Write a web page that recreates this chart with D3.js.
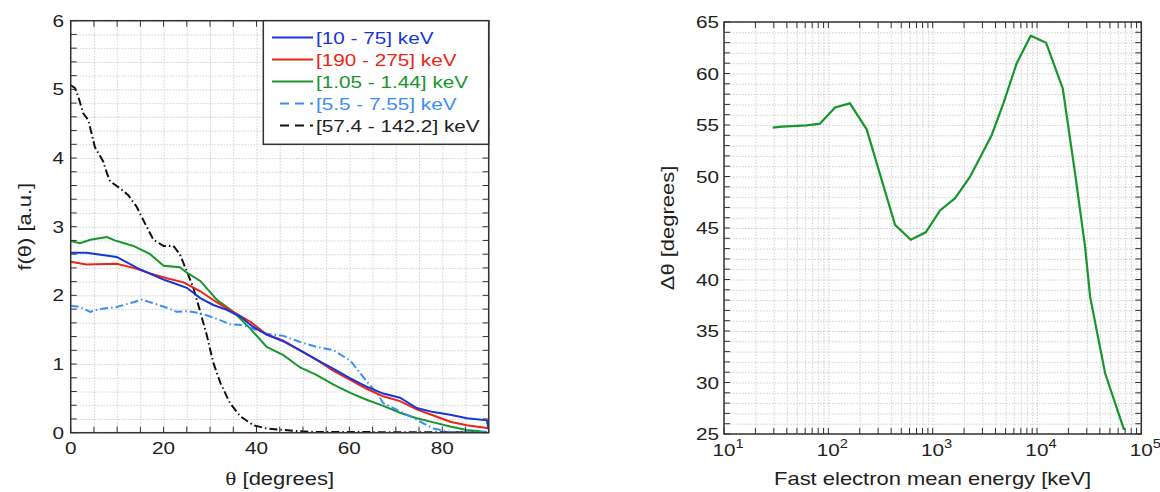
<!DOCTYPE html>
<html><head><meta charset="utf-8">
<script src="https://cdn.jsdelivr.net/npm/d3@7/dist/d3.min.js"></script>
<style>
body{margin:0;background:#fff;}
text{font-family:"Liberation Sans",Arial,sans-serif;fill:#222;}
.grid line{stroke:#c4c4c4;stroke-dasharray:1.5,1.5;stroke-width:0.8;}
.grid path{display:none;}
</style></head><body>
<svg id="c" width="1160" height="492"></svg>
<script>
// ---------- DATA ----------
const seriesNames = ["[10 - 75] keV","[190 - 275] keV","[1.05 - 1.44] keV","[5.5 - 7.55] keV","[57.4 - 142.2] keV"];
const seriesColors = ["#1836d8","#ee2412","#17962b","#3b8ef5","#111111"];
const seriesDashed = [false,false,false,true,true];

const blueTheta = [0,3.4,9.9,14.9,20,22.1,25,27.9,30.7,33.6,36.5,39.3,42.2,45.8,49.4,53,56.6,60.2,63.7,67.3,70.9,74.5,78.1,81.7,85.3,89.6,90];
const blueVal   = [2.62,2.62,2.56,2.38,2.23,2.18,2.11,1.96,1.86,1.79,1.69,1.54,1.43,1.33,1.20,1.06,0.93,0.79,0.67,0.57,0.51,0.36,0.30,0.26,0.21,0.18,0.05];

const redTheta = [0,3.4,9.9,13.5,17.1,20.7,24.3,27.9,31.4,35,38.6,42.2,45.8,49.4,53,56.6,60.2,63.7,67.3,70.9,74.5,78.1,81.7,85.3,89.6,90];
const redVal   = [2.49,2.45,2.46,2.40,2.32,2.25,2.19,2.06,1.90,1.76,1.62,1.43,1.34,1.20,1.06,0.90,0.77,0.64,0.53,0.46,0.34,0.25,0.16,0.11,0.07,0.06];

const greenTheta = [0,2,4.2,7.8,9.5,13.5,17.1,20,23.5,25,27.9,31.4,35,38.6,42.2,45.8,49.4,53,56.6,60.2,63.7,67.3,70.9,74.5,78.1,81.7,85.3,89.6];
const greenVal   = [2.79,2.76,2.81,2.85,2.80,2.72,2.60,2.43,2.41,2.33,2.21,1.94,1.76,1.52,1.25,1.13,0.95,0.84,0.70,0.58,0.48,0.39,0.29,0.21,0.15,0.09,0.04,0.01];

const lblueTheta = [0,2,4.2,6.3,9.9,13.5,15.3,17.1,20.7,22.8,25,27.9,31.4,34.3,36.5,38.6,42.2,45.8,49.4,53,56.6,60.2,63.7,65.9,67.3,70.9,74.5,78.1,81.7,89.6];
const lblueVal   = [1.85,1.83,1.76,1.80,1.83,1.90,1.94,1.90,1.82,1.76,1.77,1.74,1.66,1.58,1.57,1.53,1.44,1.41,1.32,1.25,1.20,1.05,0.75,0.58,0.43,0.31,0.19,0.06,0.01,0.01];

const blackTheta = [0,0.9,1.65,2.7,3.8,5.2,7,7.8,8.5,10.6,12.4,14.2,15.6,17.8,20,22.1,23.5,25,26.4,27.9,29.3,30.7,32.2,34.3,36.5,39.3,42.2,45.8,49.4,53,89.6];
const blackVal   = [5.06,5.02,4.89,4.65,4.55,4.16,3.95,3.78,3.66,3.56,3.46,3.29,3.10,2.81,2.72,2.72,2.60,2.35,2.11,1.76,1.42,1.02,0.73,0.43,0.24,0.11,0.06,0.04,0.02,0.01,0.005];

const energyKeV = [29.3,35.7,62,83,116,161,233,436,617,859,1178,1641,2285,3684,4764,6398,8710,12220,17660,23180,28900,32300,45000,68400];
const deltaTheta = [54.74,54.84,54.96,55.13,56.7,57.1,54.58,45.3,43.86,44.58,46.7,47.9,49.98,54.03,57.1,61.0,63.67,62.99,58.56,50.3,43.2,38.33,30.9,25.4];

const leftXTicks = [0,20,40,60,80];
const leftYTicks = [0,1,2,3,4,5,6];
const rightXTicks = [1e1,1e2,1e3,1e4,1e5];
const rightYTicks = [25,30,35,40,45,50,55,60,65];

// ---------- DRAW ----------
const svg = d3.select("#c");
const axisColor = "#333";
const SX = 1.22; // reference font is wider than Liberation Sans

function label(g, x, y, str, opts={}){
  const rot = opts.rotate ? " rotate(-90)" : "";
  const t = g.append("text").attr("x",0).attr("y",0)
    .attr("transform",`translate(${x},${y})${rot} scale(${SX},1)`)
    .attr("text-anchor",opts.anchor||"start").attr("font-size",opts.size||17);
  if (opts.fill) t.style("fill",opts.fill);
  if (str!==null) t.text(str);
  return t;
}

function frame(g, x0, x1, y0, y1){
  g.append("rect").attr("x",x0).attr("y",y1).attr("width",x1-x0).attr("height",y0-y1)
   .attr("fill","none").attr("stroke",axisColor).attr("stroke-width",1.5);
}
function ticksIn(g, xs, ys, x, y, len){
  const [x0,x1] = x.range(), [y0,y1] = y.range();
  xs.forEach(v=>{
    const px = x(v);
    g.append("line").attr("x1",px).attr("x2",px).attr("y1",y0).attr("y2",y0-len).attr("stroke",axisColor).attr("stroke-width",1);
    g.append("line").attr("x1",px).attr("x2",px).attr("y1",y1).attr("y2",y1+len).attr("stroke",axisColor).attr("stroke-width",1);
  });
  ys.forEach(v=>{
    const py = y(v);
    g.append("line").attr("x1",x0).attr("x2",x0+len).attr("y1",py).attr("y2",py).attr("stroke",axisColor).attr("stroke-width",1);
    g.append("line").attr("x1",x1).attr("x2",x1-len).attr("y1",py).attr("y2",py).attr("stroke",axisColor).attr("stroke-width",1);
  });
}

// ----- Left chart -----
const xL = d3.scaleLinear().domain([0,90]).range([70.7,488.7]);
const yL = d3.scaleLinear().domain([0,6]).range([432.7,20.7]);
const gL = svg.append("g");
const xGridL = d3.range(0,91,5), yGridL = d3.range(0,6.01,0.2);
gL.append("g").attr("class","grid").attr("transform","translate(0,432.7)")
  .call(d3.axisBottom(xL).tickValues(xGridL).tickSize(-412).tickFormat(""));
gL.append("g").attr("class","grid").attr("transform","translate(70.7,0)")
  .call(d3.axisLeft(yL).tickValues(yGridL).tickSize(-418).tickFormat(""));

const lineL = d3.line().x(d=>xL(d[0])).y(d=>yL(d[1]));
const seriesData = [
  d3.zip(blueTheta,blueVal), d3.zip(redTheta,redVal), d3.zip(greenTheta,greenVal),
  d3.zip(lblueTheta,lblueVal), d3.zip(blackTheta,blackVal)
];
gL.append("clipPath").attr("id","clipL").append("rect").attr("x",70.7).attr("y",20.7).attr("width",418).attr("height",412);
const order = [4,2,3,1,0];
order.forEach(i=>{
  gL.append("path").attr("clip-path","url(#clipL)").attr("d",lineL(seriesData[i])).attr("fill","none")
    .attr("stroke",seriesColors[i]).attr("stroke-width",2)
    .attr("stroke-dasharray",seriesDashed[i]?"8,3,1.5,3":null);
});

ticksIn(gL, xGridL, yGridL, xL, yL, 6);
frame(gL, 70.7, 488.7, 432.7, 20.7);

leftXTicks.forEach(d=>label(gL, xL(d), 454, d, {anchor:"middle"}));
leftYTicks.forEach(d=>label(gL, 64, yL(d)+6, d, {anchor:"end"}));

const xt = label(gL, 279.7, 485, null, {anchor:"middle", size:18});
xt.append("tspan").attr("font-family","Liberation Serif, serif").attr("font-size",19).text("θ");
xt.append("tspan").text(" [degrees]");
label(gL, 31, 226.7, "f(θ) [a.u.]", {anchor:"middle", size:18, rotate:true});

// legend
const lg = gL.append("g");
lg.append("rect").attr("x",263.3).attr("y",20.7).attr("width",225.4).attr("height",123.6)
  .attr("fill","#fff").attr("stroke",axisColor).attr("stroke-width",1.5);
seriesNames.forEach((n,i)=>{
  const yy = 37.5 + i*22;
  lg.append("line").attr("x1",seriesDashed[i]?280:272).attr("x2",313).attr("y1",yy).attr("y2",yy)
    .attr("stroke",seriesColors[i]).attr("stroke-width",2)
    .attr("stroke-dasharray",seriesDashed[i]?"9,6":null);
  label(lg, 316, yy+6, n, {fill: seriesColors[i]==="#111111"?"#222":seriesColors[i]});
});

// ----- Right chart -----
const xR = d3.scaleLog().domain([10,1e5]).range([724,1141.3]);
const yR = d3.scaleLinear().domain([25,65]).range([434,22]);
const gR = svg.append("g");
const xGridR = [];
[10,100,1000,10000].forEach(b=>{ for(let k=1;k<=9;k++) xGridR.push(b*k); });
xGridR.push(1e5);
const yGridR = d3.range(25,65.01,1);
gR.append("g").attr("class","grid").attr("transform","translate(0,434)")
  .call(d3.axisBottom(xR).tickValues(xGridR).tickSize(-412).tickFormat(""));
gR.append("g").attr("class","grid").attr("transform","translate(724,0)")
  .call(d3.axisLeft(yR).tickValues(yGridR).tickSize(-417.3).tickFormat(""));

const lineR = d3.line().x((d,i)=>xR(energyKeV[i])).y(d=>yR(d));
gR.append("path").attr("d",lineR(deltaTheta)).attr("fill","none").attr("stroke","#17962b").attr("stroke-width",2.2);

ticksIn(gR, xGridR, yGridR, xR, yR, 6);
frame(gR, 724, 1141.3, 434, 22);

rightXTicks.forEach(v=>{
  const t = label(gR, xR(v)+4, 456, null, {anchor:"middle"});
  t.append("tspan").text("10");
  t.append("tspan").attr("font-size",12).attr("dy",-8).text(Math.round(Math.log10(v)));
});
rightYTicks.forEach(d=>label(gR, 719, yR(d)+6, d, {anchor:"end"}));
label(gR, 932.6, 485, "Fast electron mean energy [keV]", {anchor:"middle", size:18});
label(gR, 674, 228, "Δθ [degrees]", {anchor:"middle", size:18, rotate:true});
</script>
</body></html>
